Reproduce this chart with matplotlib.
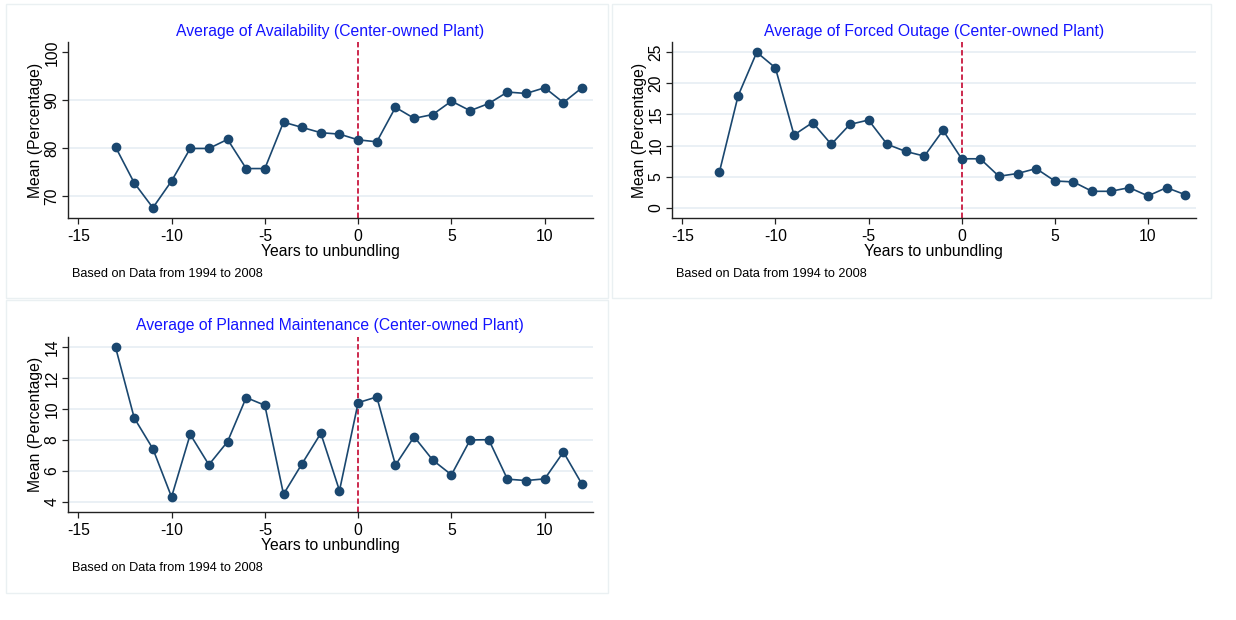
import matplotlib
matplotlib.use("Agg")
import matplotlib.pyplot as plt
from matplotlib.patches import Rectangle

plt.rcParams['font.family'] = ['Liberation Sans', 'DejaVu Sans']
plt.rcParams['axes.unicode_minus'] = False

# === Data ===
years = list(range(-13, 13))

availability = [80.2, 72.7, 67.5, 73.1, 79.9, 79.9, 81.8, 75.7, 75.7, 85.4, 84.3, 83.2, 82.9,
                81.7, 81.3, 88.5, 86.2, 87.0, 89.8, 87.8, 89.3, 91.7, 91.4, 92.6, 89.5, 92.6]

forced_outage = [5.8, 18.0, 25.0, 22.5, 11.7, 13.7, 10.2, 13.4, 14.1, 10.2, 9.05, 8.3, 12.45,
                 7.87, 7.87, 5.06, 5.5, 6.3, 4.3, 4.15, 2.64, 2.64, 3.23, 1.9, 3.23, 2.1]

planned_maint = [13.98, 9.42, 7.43, 4.32, 8.36, 6.4, 7.89, 10.74, 10.24, 4.5, 6.48, 8.43, 4.73,
                 10.41, 10.78, 6.38, 8.21, 6.7, 5.75, 8.0, 8.02, 5.47, 5.38, 5.49, 7.22, 5.14]

titles = ["Average of Availability (Center-owned Plant)",
          "Average of Forced Outage (Center-owned Plant)",
          "Average of Planned Maintenance (Center-owned Plant)"]
yticks_list = [[70, 80, 90, 100], [0, 5, 10, 15, 20, 25], [4, 6, 8, 10, 12, 14]]
ylims = [(65.3, 102.1), (-1.7, 26.6), (3.33, 14.67)]
xticks = [-15, -10, -5, 0, 5, 10]
note = "Based on Data from 1994 to 2008"

# === Colors ===
col_line = "#1a476f"
col_vline = "#c8183f"
col_grid = "#e6eef3"
col_title = "#1414ff"
col_box = "#eaf0f2"

W, H = 1236, 620
fig = plt.figure(figsize=(W / 100, H / 100), dpi=100)

# panel frames (pixels: x0, y0, x1, y1 from top-left)
frames = [(6, 4, 608, 298), (612, 4, 1211, 298), (6, 300, 608, 593)]
for x0, y0, x1, y1 in frames:
    fig.patches.append(Rectangle((x0 / W, 1 - y1 / H), (x1 - x0) / W, (y1 - y0) / H,
                                 transform=fig.transFigure, fill=False,
                                 edgecolor=col_box, linewidth=1.0))

# axes boxes in pixels (left, top, right, bottom)
axes_px = [(68, 42.3, 592.5, 218.3), (672, 42.3, 1195.6, 218.3), (68, 336.7, 592.5, 512.3)]
series = [availability, forced_outage, planned_maint]

for i, (l, t, r, b) in enumerate(axes_px):
    ax = fig.add_axes([l / W, 1 - b / H, (r - l) / W, (b - t) / H])
    ax.plot(years, series[i], color=col_line, linewidth=1.2, marker='o',
            markersize=6, markerfacecolor=col_line, markeredgecolor=col_line, zorder=3)
    ax.axvline(0, color=col_vline, linewidth=1.3, linestyle=(0, (3, 1.5)), zorder=2)

    ax.set_xlim(-15.55, 12.56)
    ax.set_ylim(*ylims[i])
    ax.set_xticks(xticks)
    ax.set_yticks(yticks_list[i])

    # horizontal grid only, skip the top 100 line on the first panel
    for v in yticks_list[i]:
        if i == 0 and v == 100:
            continue
        ax.axhline(v, color=col_grid, linewidth=1.2, zorder=1)

    for s in ['top', 'right']:
        ax.spines[s].set_visible(False)
    for s in ['left', 'bottom']:
        ax.spines[s].set_linewidth(1.0)
        ax.spines[s].set_color('#222222')

    ax.tick_params(axis='both', direction='out', length=4.3, width=0.9,
                   labelsize=11.3, color='#222222')
    ax.tick_params(axis='x', pad=3.5)
    ax.tick_params(axis='y', pad=2)
    plt.setp(ax.get_yticklabels(), rotation=90, va='center')

    ax.set_title(titles[i], color=col_title, fontsize=11.3, pad=4.5)
    ax.set_xlabel("Years to unbundling", fontsize=11.3, labelpad=0)
    ax.set_ylabel("Mean (Percentage)", fontsize=11.3, labelpad=1)

    fig.text(l / W + 3.5 / W, 1 - (b + 55.7) / H, note, fontsize=9.2, va='center', ha='left')

fig.savefig("out.png", dpi=100)
